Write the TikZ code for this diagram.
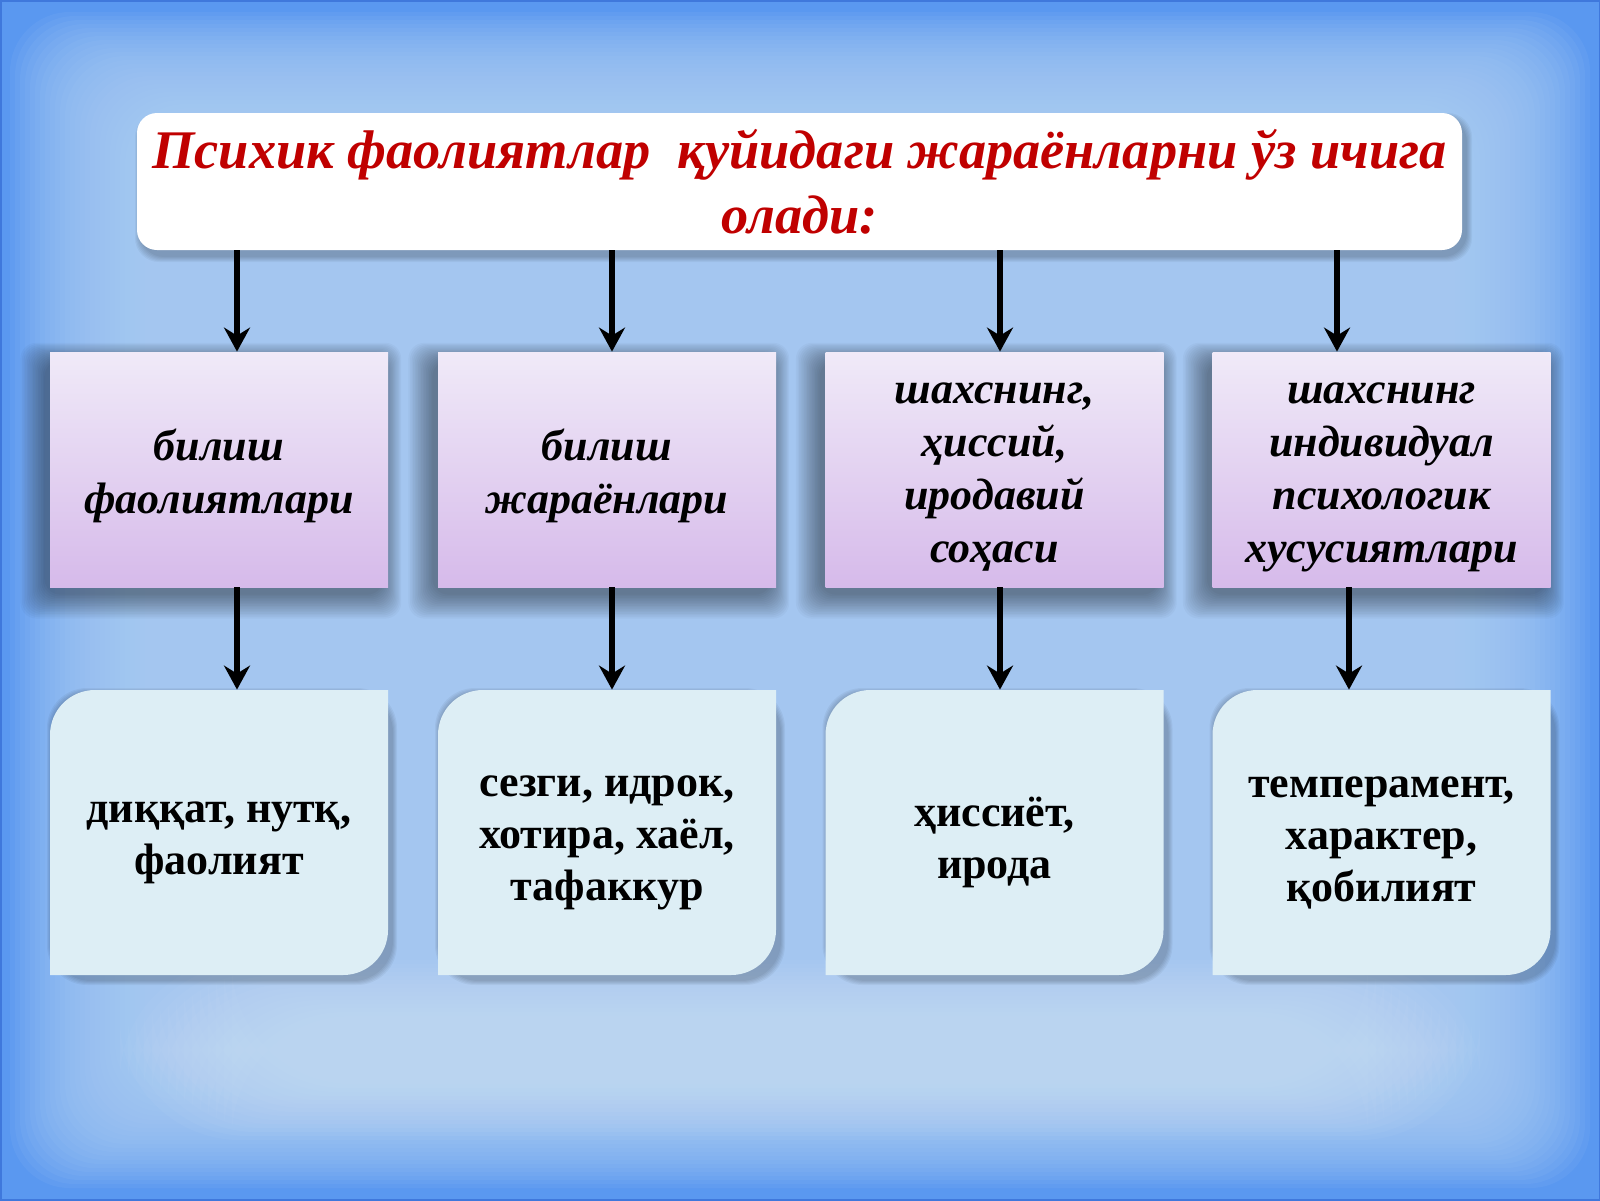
\documentclass[tikz,border=0pt]{standalone}
\usepackage{fontspec}
\setmainfont{Liberation Serif}
\usetikzlibrary{arrows.meta,calc}
\definecolor{bgout}{HTML}{5A98F0}
\definecolor{bgin}{HTML}{AFD1F6}
\definecolor{bgpale}{HTML}{D2E4F6}
\definecolor{bgedge}{HTML}{3F78DC}
\definecolor{titlered}{HTML}{C00000}
\definecolor{purtop}{HTML}{F0EAF8}
\definecolor{purbot}{HTML}{D6BAEA}
\definecolor{cyanbox}{HTML}{DDEEF5}
\begin{document}
\begin{tikzpicture}[x=0.5pt,y=-0.5pt,
  titlebox/.style={fill=white, rounded corners=10pt, minimum width=662.5pt, minimum height=68.5pt,
    inner sep=0pt, align=center, text=titlered,
    font=\fontsize{27.2}{32.5}\selectfont\bfseries\itshape},
  pbox/.style={minimum width=169pt, minimum height=117.5pt, inner sep=0pt, align=center,
    top color=purtop, bottom color=purbot,
    font=\fontsize{22}{26.5}\selectfont\bfseries\itshape},
  ptext/.style={align=center, font=\fontsize{22}{26.5}\selectfont\bfseries\itshape},
  bbox/.style={minimum width=169pt, minimum height=142.5pt, inner sep=0pt, align=center,
    font=\fontsize{22}{26}\selectfont\bfseries},
  shadowlayer/.style={fill=black, opacity=#1},
  arr/.style={line width=2.7pt, -{Stealth[length=12pt,width=13pt,inset=4pt]}}
]
\useasboundingbox (0,0) rectangle (1600,1200);
% background glow
\fill[bgout] (0,0) rectangle (1600,1200);
\foreach \i in {0,...,29}{
  \fill[bgin, opacity=0.085, rounded corners=30pt] (10+5*\i,12+4*\i) rectangle (1590-5*\i,1188-4*\i);
}
\foreach \i in {0,...,14}{
  \fill[bgpale, opacity=0.06, rounded corners=60pt] (120+8*\i,960+4*\i) rectangle (1480-8*\i,1140-4*\i);
}
\draw[bgedge, line width=1.5pt] (0,0) rectangle (1600,1200);

% title shadow
\foreach \k in {1,...,6}{
  \fill[shadowlayer=0.04, rounded corners=12pt] (141-\k,119-\k) rectangle (1466+\k,256+\k);
}
% purple box shadows
\foreach \c in {219,607,994.5,1381.5}{
  \foreach \k in {1,...,16}{
    \fill[shadowlayer=0.028, rounded corners=8pt] (\c-169-4-1.6*\k,352+10-1.2*\k) rectangle (\c+169-6+1.2*\k,587+6+1.6*\k);
  }
}
% bottom box shadows and shapes
\foreach \c in {219,607,994.5,1381.5}{
  \foreach \k in {1,...,5}{
    \fill[shadowlayer=0.045, rounded corners=20pt] (\c-169+2-\k,690+3-\k) rectangle (\c+169+4+\k,975+5+\k);
  }
  \fill[cyanbox] (\c-169,975) -- (\c-169,735)
    .. controls (\c-169,710) and (\c-169+20,690) .. (\c-169+45,690)
    -- (\c+169,690) -- (\c+169,930)
    .. controls (\c+169,955) and (\c+169-20,975) .. (\c+169-45,975) -- cycle;
}

\node[titlebox] (title) at (799.5,181.5) {Психик фаолиятлар\ \ қуйидаги жараёнларни ўз ичига\\олади:};

\node[pbox] (p1) at (219,469.5) {};
\node[pbox] (p2) at (607,469.5) {};
\node[pbox] (p3) at (994.5,469.5) {};
\node[pbox] (p4) at (1381.5,469.5) {};
\node[ptext] (p1t) at ($(p1)+(0,6)$) {билиш\\фаолиятлари};
\node[ptext] (p2t) at ($(p2)+(0,6)$) {билиш\\жараёнлари};
\node[ptext] (p3t) at ($(p3)+(0,8)$) {шахснинг,\\ҳиссий,\\иродавий\\соҳаси};
\node[ptext] (p4t) at ($(p4)+(0,8)$) {шахснинг\\индивидуал\\психологик\\хусусиятлари};

\node[bbox] (b1) at (219,832.5) {};
\node[bbox] (b2) at (607,832.5) {};
\node[bbox] (b3) at (994.5,832.5) {};
\node[bbox] (b4) at (1381.5,832.5) {};
\node[bbox, minimum height=0pt] (b1t) at ($(b1)+(0,10)$) {диққат, нутқ,\\фаолият};
\node[bbox, minimum height=0pt] (b2t) at ($(b2)+(0,10)$) {сезги, идрок,\\хотира, хаёл,\\тафаккур};
\node[bbox, minimum height=0pt] (b3t) at ($(b3)+(0,10)$) {ҳиссиёт,\\ирода};
\node[bbox, minimum height=0pt] (b4t) at ($(b4)+(0,10)$) {темперамент,\\характер,\\қобилият};

\draw[arr] ($(title.south -| p1.north)+(18,0)$) -- ($(p1.north)+(18,0)$);
\draw[arr] ($(title.south -| p2.north)+(5,0)$) -- ($(p2.north)+(5,0)$);
\draw[arr] ($(title.south -| p3.north)+(5.5,0)$) -- ($(p3.north)+(5.5,0)$);
\draw[arr] ($(title.south -| p4.north)+(-44.5,0)$) -- ($(p4.north)+(-44.5,0)$);

\draw[arr] ($(p1.south)+(18,0)$) -- ($(b1.north)+(18,0)$);
\draw[arr] ($(p2.south)+(5,0)$) -- ($(b2.north)+(5,0)$);
\draw[arr] ($(p3.south)+(5.5,0)$) -- ($(b3.north)+(5.5,0)$);
\draw[arr] ($(p4.south)+(-32.5,0)$) -- ($(b4.north)+(-32.5,0)$);
\end{tikzpicture}
\end{document}
